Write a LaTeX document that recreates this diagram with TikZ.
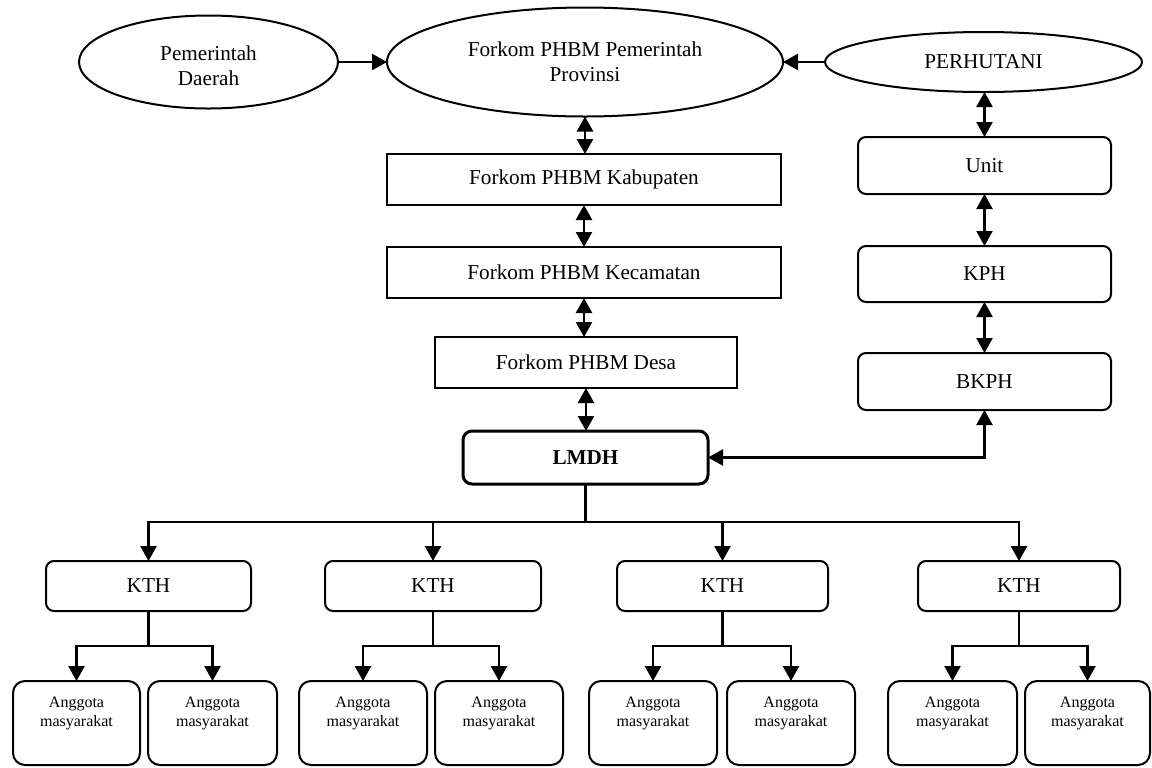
\documentclass[tikz,border=0pt]{standalone}
\usepackage{fontspec}
\setmainfont{Liberation Serif}
\usetikzlibrary{shapes.geometric,arrows.meta}
\newcommand\mainsz{\fontsize{10.6pt}{12.5pt}\selectfont}
\newcommand\smallsz{\fontsize{8pt}{9.5pt}\selectfont}
\begin{document}
\begin{tikzpicture}[x=0.5pt,y=-0.5pt,
  every node/.style={inner sep=0pt, outer sep=0pt},
  conn/.style={line width=1.2pt},
  tip/.style={-{Triangle[length=7.5pt,width=8pt]}},
  dtip/.style={{Triangle[length=7.5pt,width=8pt]}-{Triangle[length=7.5pt,width=8pt]}},
  oval/.style={draw, ellipse, line width=1pt, font=\mainsz, align=center},
  otxt/.style={font=\mainsz, align=center},
  rectbox/.style={draw, rectangle, line width=0.9pt, minimum height=25.5pt, font=\mainsz},
  rbox/.style={draw, rounded corners=4pt, line width=1pt, font=\mainsz},
  lbox/.style={draw, rounded corners=4.5pt, line width=1.5pt, font=\bfseries\mainsz},
  abox/.style={draw, rounded corners=6pt, line width=1pt, minimum height=42pt},
  atxt/.style={font=\smallsz, align=center}]
\useasboundingbox (0,0) rectangle (1152,767);

% top row
\node[oval, minimum width=129.5pt, minimum height=46.5pt] (pd) at (208.5,62) {};
\node[otxt] (pd-t) at ([yshift=-2pt]pd.center) {Pemerintah\\Daerah};
\node[oval, minimum width=198pt, minimum height=54.5pt] (prov) at (585,62) {Forkom PHBM Pemerintah\\Provinsi};
\node[oval, minimum width=158.5pt, minimum height=30pt] (perh) at (983.5,62) {PERHUTANI};

% central column
\node[rectbox, minimum width=197pt] (kab) at (584,179.5) {Forkom PHBM Kabupaten};
\node[rectbox, minimum width=197pt] (kec) at (584,272.5) {Forkom PHBM Kecamatan};
\node[rectbox, minimum width=151pt] (desa) at (586,362.5) {Forkom PHBM Desa};
\node[lbox, minimum width=122.5pt, minimum height=26.5pt] (lmdh) at (585.5,457.5) {LMDH};

% right column
\node[rbox, minimum width=126.5pt, minimum height=28.5pt] (unit) at (984.5,165.5) {Unit};
\node[rbox, minimum width=126.5pt, minimum height=28pt] (kph) at (984.5,274) {KPH};
\node[rbox, minimum width=126.5pt, minimum height=28.5pt] (bkph) at (984.5,381.5) {BKPH};

% KTH row
\node[rbox, minimum width=102.5pt, minimum height=25pt] (kth1) at (148.5,586) {KTH};
\node[rbox, minimum width=108pt, minimum height=25pt] (kth2) at (433,586) {KTH};
\node[rbox, minimum width=105.5pt, minimum height=25pt] (kth3) at (722.5,586) {KTH};
\node[rbox, minimum width=101pt, minimum height=25pt] (kth4) at (1019,586) {KTH};

% Anggota row
\node[abox, minimum width=63.5pt] (a1) at (76.5,723) {};
\node[abox, minimum width=64.5pt] (a2) at (212.5,723) {};
\node[abox, minimum width=64pt] (a3) at (363,723) {};
\node[abox, minimum width=64pt] (a4) at (499,723) {};
\node[abox, minimum width=64pt] (a5) at (653,723) {};
\node[abox, minimum width=64pt] (a6) at (791,723) {};
\node[abox, minimum width=64.5pt] (a7) at (952.5,723) {};
\node[abox, minimum width=62.5pt] (a8) at (1087.5,723) {};
\foreach \a in {a1,a2,a3,a4,a5,a6,a7,a8}
  \node[atxt] (\a-t) at ([yshift=-16.25pt]\a.north) {Anggota\\masyarakat};

% connectors
\draw[conn,tip] (pd.east) -- (prov.west);
\draw[conn,tip] (perh.west) -- (prov.east);
\draw[conn,dtip] (prov.south) -- (prov.south |- kab.north);
\draw[conn,dtip] (kab.south) -- (kab.south |- kec.north);
\draw[conn,dtip] (kec.south) -- (kec.south |- desa.north);
\draw[conn,dtip] (desa.south) -- (desa.south |- lmdh.north);
\draw[conn,dtip] (unit.north |- perh.south) -- (unit.north);
\draw[conn,dtip] (unit.south) -- (kph.north);
\draw[conn,dtip] (kph.south) -- (bkph.north);
\draw[conn,dtip] (lmdh.east) -- (lmdh.east -| bkph.south) -- (bkph.south);

\coordinate (bus) at (585.5,522);
\draw[conn] (lmdh.south) -- (bus);
\foreach \k in {kth1,kth2,kth3,kth4}
  \draw[conn,tip] (bus) -| (\k.north);

\foreach \k/\l/\r in {kth1/a1/a2, kth2/a3/a4, kth3/a5/a6, kth4/a7/a8} {
  \path (\k.south) ++(0,35) coordinate (\k-b);
  \draw[conn] (\k.south) -- (\k-b);
  \draw[conn,tip] (\k-b) -| (\l.north);
  \draw[conn,tip] (\k-b) -| (\r.north);
}
\end{tikzpicture}
\end{document}
